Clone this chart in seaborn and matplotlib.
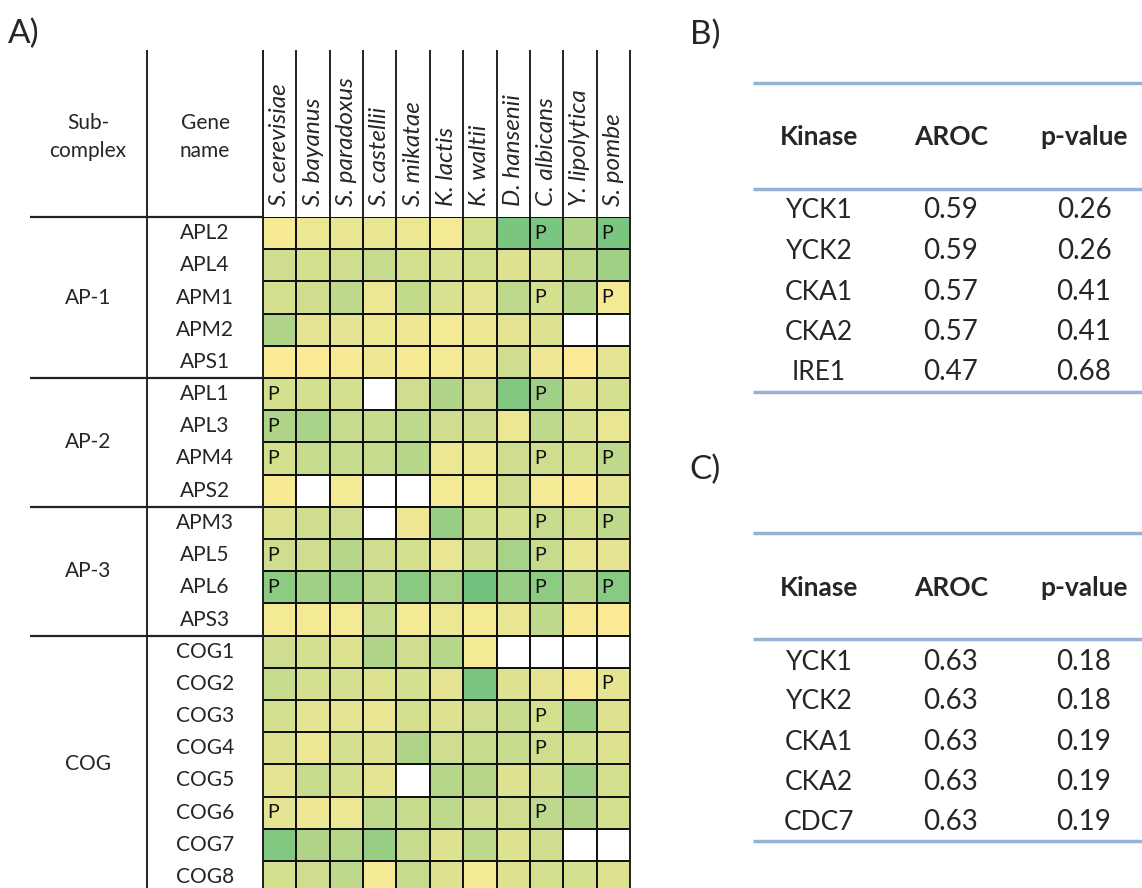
import numpy as np
import pandas as pd
import matplotlib
matplotlib.use("Agg")
import matplotlib.pyplot as plt
import seaborn as sns
from matplotlib.colors import LinearSegmentedColormap

# ==========================================
# DATA
# ==========================================

species = ["S. cerevisiae", "S. bayanus", "S. paradoxus", "S. castellii", "S. mikatae",
           "K. lactis", "K. waltii", "D. hansenii", "C. albicans", "Y. lipolytica", "S. pombe"]

genes = ["APL2", "APL4", "APM1", "APM2", "APS1",
         "APL1", "APL3", "APM4", "APS2",
         "APM3", "APL5", "APL6", "APS3",
         "COG1", "COG2", "COG3", "COG4", "COG5", "COG6", "COG7", "COG8"]

subcomplexes = ["AP-1", "AP-2", "AP-3", "COG"]
subcomplex_sizes = [5, 4, 4, 8]

nan = np.nan
# 0 = pale yellow, 1 = green; nan = no ortholog (white)
scores = [
    [0.03, 0.10, 0.12, 0.12, 0.10, 0.05, 0.25, 0.85, 0.85, 0.50, 0.85],
    [0.30, 0.25, 0.30, 0.35, 0.25, 0.22, 0.25, 0.20, 0.22, 0.40, 0.60],
    [0.25, 0.30, 0.40, 0.10, 0.38, 0.22, 0.15, 0.40, 0.25, 0.45, 0.05],
    [0.50, 0.15, 0.15, 0.10, 0.08, 0.05, 0.08, 0.15, 0.20, nan, nan],
    [0.00, 0.00, 0.02, 0.08, 0.03, 0.05, 0.08, 0.30, 0.08, 0.00, 0.15],
    [0.25, 0.25, 0.25, nan, 0.30, 0.50, 0.30, 0.80, 0.60, 0.20, 0.25],
    [0.50, 0.55, 0.35, 0.35, 0.40, 0.30, 0.30, 0.10, 0.40, 0.22, 0.12],
    [0.25, 0.35, 0.35, 0.35, 0.45, 0.10, 0.10, 0.30, 0.30, 0.25, 0.40],
    [0.03, nan, 0.05, nan, nan, 0.05, 0.05, 0.30, 0.05, 0.00, 0.15],
    [0.20, 0.30, 0.30, nan, 0.08, 0.65, 0.25, 0.25, 0.35, 0.25, 0.40],
    [0.30, 0.30, 0.45, 0.30, 0.25, 0.12, 0.30, 0.55, 0.35, 0.12, 0.15],
    [0.72, 0.60, 0.65, 0.40, 0.75, 0.55, 0.90, 0.65, 0.72, 0.45, 0.75],
    [0.05, 0.05, 0.05, 0.35, 0.05, 0.10, 0.05, 0.12, 0.40, 0.02, 0.00],
    [0.30, 0.25, 0.20, 0.50, 0.30, 0.45, 0.05, nan, nan, nan, nan],
    [0.35, 0.25, 0.25, 0.20, 0.25, 0.15, 0.85, 0.20, 0.15, 0.02, 0.15],
    [0.25, 0.15, 0.15, 0.12, 0.25, 0.20, 0.30, 0.35, 0.25, 0.65, 0.20],
    [0.20, 0.10, 0.25, 0.20, 0.50, 0.30, 0.35, 0.35, 0.30, 0.25, 0.20],
    [0.15, 0.35, 0.25, 0.15, nan, 0.45, 0.45, 0.20, 0.25, 0.60, 0.25],
    [0.15, 0.08, 0.10, 0.40, 0.35, 0.40, 0.30, 0.30, 0.40, 0.50, 0.25],
    [0.80, 0.50, 0.45, 0.65, 0.35, 0.20, 0.40, 0.20, 0.30, nan, nan],
    [0.25, 0.30, 0.40, 0.05, 0.35, 0.20, 0.05, 0.20, 0.25, 0.25, 0.20],
]

# "P" marks, one string per gene, one character per species
p_marks = [
    "........P.P", "...........", "........P.P", "...........", "...........",
    "P.......P..", "P..........", "P.......P.P", "...........",
    "........P.P", "P.......P..", "P.......P.P", "...........",
    "...........", "..........P", "........P..", "........P..",
    "...........", "P.......P..", "...........", "...........",
]

table_header = ["Kinase", "AROC", "p-value"]
kinases_b = ["YCK1", "YCK2", "CKA1", "CKA2", "IRE1"]
aroc_b = ["0.59", "0.59", "0.57", "0.57", "0.47"]
pval_b = ["0.26", "0.26", "0.41", "0.41", "0.68"]
kinases_c = ["YCK1", "YCK2", "CKA1", "CKA2", "CDC7"]
aroc_c = ["0.63", "0.63", "0.63", "0.63", "0.63"]
pval_c = ["0.18", "0.18", "0.19", "0.19", "0.19"]

# ==========================================
# STYLE / LAYOUT
# ==========================================

sns.set_style("white")
plt.rcParams['font.family'] = ['Lato', 'DejaVu Sans']

W, H = 1142, 888
CELL_W = (630 - 263) / 11
CELL_H = 32.2
TXT = 15

fig = plt.figure(figsize=(W / 100, H / 100), dpi=100)

# heatmap axes in pixel geometry (bottom row runs off the figure, as in the reference)
hm_left, hm_top = 263, 217
hm_h = CELL_H * len(genes)
ax = fig.add_axes([hm_left / W, 1 - (hm_top + hm_h) / H, 11 * CELL_W / W, hm_h / H])

df = pd.DataFrame(scores, index=genes, columns=species)
annot = np.array([[("P" if c == "P" else "") for c in row] for row in p_marks])
cmap = LinearSegmentedColormap.from_list("yg", ["#FBEB96", "#63BE7B"])

sns.heatmap(df, ax=ax, cmap=cmap, vmin=0, vmax=1, cbar=False,
            linewidths=1.4, linecolor="#111111",
            annot=annot, fmt="", annot_kws={"color": "#111111", "fontsize": 14})

for t in ax.texts:
    x, y = t.get_position()
    t.set_horizontalalignment("left")
    t.set_position((x - 0.36, y))

# species labels on top, italic, vertical
ax.xaxis.tick_top()
ax.set_xticklabels(species, rotation=90, fontstyle="italic", fontsize=17.5,
                   va="bottom", ha="center")
ax.tick_params(axis="x", length=0, pad=8)

# gene names centred in their column
ax.set_yticklabels(genes, rotation=0, fontsize=TXT, ha="center")
ax.tick_params(axis="y", length=0, pad=(hm_left - 205) * 0.72)
ax.set_xlabel("")
ax.set_ylabel("")

# table frame of panel A
top_y = -(hm_top - 50) / CELL_H
left_x = -(hm_left - 30) / CELL_W
gene_x = -(hm_left - 147) / CELL_W
lc = "#222222"
ax.vlines(np.arange(12), top_y, 0, color=lc, lw=1.4, clip_on=False)
ax.vlines([gene_x, 0], top_y, len(genes), color=lc, lw=1.4, clip_on=False)
ax.vlines([11], 0, len(genes), color=lc, lw=1.4, clip_on=False)
bounds = np.cumsum([0] + subcomplex_sizes)
ax.hlines(bounds[:-1], left_x, 0, color=lc, lw=1.6, clip_on=False)

sub_x = -(hm_left - 88) / CELL_W
for name, a, b in zip(subcomplexes, bounds[:-1], bounds[1:]):
    ax.text(sub_x, (a + b) / 2, name, ha="center", va="center", fontsize=TXT, clip_on=False)

head_y = -(hm_top - 137) / CELL_H
ax.text(sub_x, head_y, "Sub-\ncomplex", ha="center", va="center", fontsize=TXT,
        linespacing=1.55, clip_on=False)
ax.text(-(hm_left - 205) / CELL_W, head_y, "Gene\nname", ha="center", va="center",
        fontsize=TXT, linespacing=1.55, clip_on=False)

# ==========================================
# PANELS B / C (tables) in pixel coords
# ==========================================

ov = fig.add_axes([0, 0, 1, 1])
ov.set_xlim(0, W)
ov.set_ylim(H, 0)
ov.axis("off")

ov.text(24, 34, "A)", fontsize=24, ha="center", va="center")


def draw_table(label, label_y, top, header_y, mid, row_ys, bottom, kin, aroc, pval):
    ov.text(705, label_y, label, fontsize=24, ha="center", va="center")
    col_x = [819, 951, 1084]
    for y in (top, mid, bottom):
        ov.plot([753, W], [y, y], color="#95B3D7", lw=2.5, solid_capstyle="butt")
    for x, h in zip(col_x, table_header):
        ov.text(x, header_y, h, fontsize=19, fontweight="bold", ha="center", va="center")
    for y, k, a, p in zip(row_ys, kin, aroc, pval):
        ov.text(col_x[0], y, k, fontsize=19, ha="center", va="center")
        ov.text(col_x[1], y, a, fontsize=20, ha="center", va="center")
        ov.text(col_x[2], y, p, fontsize=20, ha="center", va="center")


draw_table("B)", 35, 83, 137, 189, [210, 251, 292, 332, 372], 392,
           kinases_b, aroc_b, pval_b)
draw_table("C)", 470, 533, 588, 639, [662, 701, 742, 782, 822], 841,
           kinases_c, aroc_c, pval_c)

fig.savefig("out.png", dpi=100)
